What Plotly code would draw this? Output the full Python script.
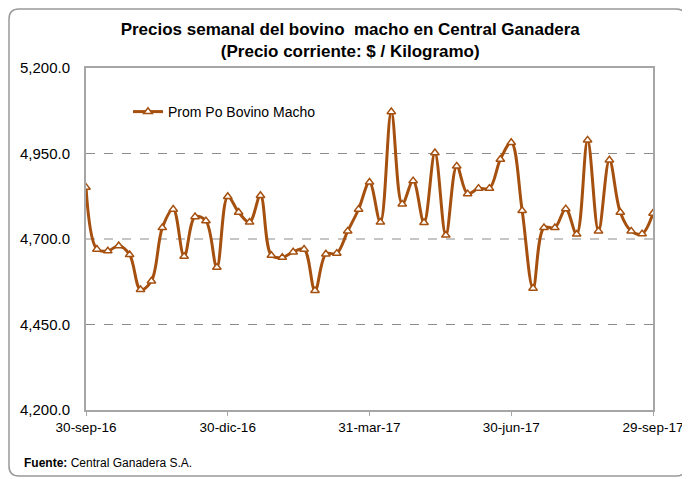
import pandas as pd
import plotly.graph_objects as go

# weekly prices, 30-sep-16 .. 29-sep-17
start_date = "2016-09-30"
prices = [
    4851, 4670, 4665, 4680, 4654, 4552, 4577, 4733, 4787, 4649,
    4765, 4753, 4617, 4824, 4778, 4749, 4827, 4652, 4646, 4662,
    4670, 4549, 4656, 4658, 4723, 4787, 4866, 4749, 5072, 4802,
    4870, 4748, 4952, 4711, 4913, 4832, 4848, 4848, 4933, 4982,
    4783, 4556, 4733, 4733, 4788, 4714, 4989, 4723, 4931, 4778,
    4723, 4715, 4775,
]
tick_dates = ["2016-09-30", "2016-12-30", "2017-03-31", "2017-06-30", "2017-09-29"]
tick_labels = ["30-sep-16", "30-dic-16", "31-mar-17", "30-jun-17", "29-sep-17"]
series_name = "Prom Po Bovino Macho"

dates = pd.date_range(start_date, periods=len(prices), freq="7D")

BROWN = "#A5500F"
FONT = "Liberation Sans, Arial, sans-serif"

# page puts the figure 8px in from the window corner
OFF = 8
W, H = 690, 479
# plot area in window pixels: x 86..653, y 68..410
L, R, T, B = 86 - OFF, 653 - OFF, 68 - OFF, 410 - OFF
pw, ph = R - L, B - T


def px(x):
    return (x - OFF - L) / pw


def py(y):
    return (B - (y - OFF)) / ph


fig = go.Figure()
fig.add_trace(go.Scatter(
    x=dates, y=prices, name=series_name,
    mode="lines+markers",
    line=dict(color=BROWN, width=3, shape="spline", smoothing=1.0),
    marker=dict(symbol="triangle-up", size=7.5, color="white",
                line=dict(color=BROWN, width=1.5)),
))

# rounded outer frame
x0, x1, y0, y1, r = 9, 686, 9, 476, 10
path = (
    f"M {px(x0 + r)} {py(y0)} L {px(x1 - r)} {py(y0)} "
    f"Q {px(x1)} {py(y0)} {px(x1)} {py(y0 + r)} "
    f"L {px(x1)} {py(y1 - r)} Q {px(x1)} {py(y1)} {px(x1 - r)} {py(y1)} "
    f"L {px(x0 + r)} {py(y1)} Q {px(x0)} {py(y1)} {px(x0)} {py(y1 - r)} "
    f"L {px(x0)} {py(y0 + r)} Q {px(x0)} {py(y0)} {px(x0 + r)} {py(y0)} Z"
)
fig.add_shape(type="path", path=path, xref="paper", yref="paper",
              line=dict(color="#999999", width=1.5), layer="below")

# dashed gridlines
for v in [4450, 4700, 4950]:
    fig.add_shape(type="line", xref="paper", yref="y", x0=0, x1=1, y0=v, y1=v,
                  line=dict(color="#8C8C8C", width=1, dash="dash"), layer="below")

fig.update_layout(
    width=W, height=H,
    margin=dict(l=L, r=W - R, t=T, b=H - B),
    paper_bgcolor="white", plot_bgcolor="white",
    font=dict(family=FONT, size=15, color="black"),
    title=dict(
        text="<b>Precios semanal del bovino  macho en Central Ganadera<br>(Precio corriente: $ / Kilogramo)</b>",
        x=0.496, xanchor="center", y=0.944, yanchor="top",
        font=dict(family=FONT, size=17),
    ),
    showlegend=True,
    legend=dict(x=px(128), y=py(112), xanchor="left", yanchor="middle",
                bgcolor="rgba(0,0,0,0)", font=dict(size=14)),
    xaxis=dict(
        range=[dates[0], dates[-1]],
        tickvals=pd.to_datetime(tick_dates), ticktext=tick_labels,
        showgrid=False, showline=True, linecolor="#A6A6A6", linewidth=2,
        mirror=True, ticks="outside", ticklen=4, tickcolor="#A6A6A6",
        tickfont=dict(size=13.5), ticklabelstandoff=0,
        zeroline=False,
    ),
    yaxis=dict(
        range=[4200, 5200], tick0=4200, dtick=250, tickformat=",.1f",
        showgrid=False, showline=True, linecolor="#A6A6A6", linewidth=2,
        mirror=True, ticks="", ticklabelstandoff=11, zeroline=False,
    ),
)

fig.add_annotation(
    text="<b>Fuente:</b> Central Ganadera S.A.",
    xref="paper", yref="paper", x=px(22), y=py(463),
    xanchor="left", yanchor="middle", showarrow=False,
    font=dict(size=12),
)

fig.write_html("out.html")
